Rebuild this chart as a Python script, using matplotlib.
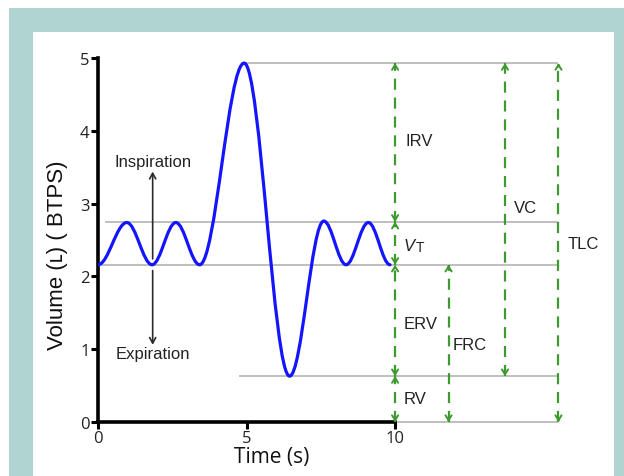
import numpy as np
import matplotlib.pyplot as plt
from matplotlib.path import Path
from matplotlib.patches import PathPatch, Rectangle

# extremes of the spirogram trace (time s, volume L)
t_ext = [0.0, 0.97, 1.82, 2.62, 3.42, 4.92, 6.45, 7.6, 8.35, 9.1, 9.83]
v_ext = [2.16, 2.74, 2.16, 2.74, 2.16, 4.93, 0.63, 2.76, 2.16, 2.74, 2.16]

# lung volume levels
rv_level = 0.63
frc_level = 2.16
vt_level = 2.75
tlc_level = 4.93

# x positions of the bracket arrows
col_main = 10.0
col_frc = 11.8
col_vc = 13.7
col_tlc = 15.5

xticks = [0, 5, 10]
yticks = [0, 1, 2, 3, 4, 5]

green = '#3c9a2e'
grey = '#b4b4b4'

fig = plt.figure(figsize=(6.24, 4.77), dpi=100)
fig.patch.set_facecolor('white')
fig.patches.append(Rectangle((9 / 624, 0), 1, 1 - 9 / 477, transform=fig.transFigure,
                             facecolor='#b0d4d2', edgecolor='none', zorder=-2))
fig.patches.append(Rectangle((33 / 624, 0), (614 - 33) / 624, 1 - 33 / 477,
                             transform=fig.transFigure, facecolor='white',
                             edgecolor='none', zorder=-1))

ax = fig.add_axes([98 / 624, 54 / 477, 500 / 624, 364 / 477])
ax.set_facecolor('none')
ax.set_xlim(0, 16.83)
ax.set_ylim(0, 5)

# smooth trace: cubic bezier between successive extremes
k = 0.36
verts = [(t_ext[0], v_ext[0])]
codes = [Path.MOVETO]
for i in range(len(t_ext) - 1):
    dt = t_ext[i + 1] - t_ext[i]
    verts += [(t_ext[i] + k * dt, v_ext[i]), (t_ext[i + 1] - k * dt, v_ext[i + 1]),
              (t_ext[i + 1], v_ext[i + 1])]
    codes += [Path.CURVE4] * 3
ax.add_patch(PathPatch(Path(verts, codes), facecolor='none', edgecolor='#1414ff',
                       lw=2.3, zorder=4, capstyle='round'))

# grey level lines
ax.hlines(tlc_level, 4.8, col_tlc, color=grey, lw=1.2, zorder=1)
ax.hlines(vt_level, 0.25, col_tlc, color=grey, lw=1.2, zorder=1)
ax.hlines(frc_level, 0.05, col_tlc, color=grey, lw=1.2, zorder=1)
ax.hlines(rv_level, 4.75, col_tlc, color=grey, lw=1.2, zorder=1)
ax.hlines(0, col_main, col_tlc, color=grey, lw=1.2, zorder=1, clip_on=False)


def bracket(x, lo, hi):
    ax.vlines(x, lo, hi, color=green, lw=1.6, linestyles=(0, (5, 3.5)), zorder=3)
    for tip, tail in [(hi, hi - 0.05), (lo, lo + 0.05)]:
        ax.annotate('', xy=(x, tip), xytext=(x, tail), annotation_clip=False,
                    arrowprops=dict(arrowstyle='->,head_length=0.35,head_width=0.22',
                                    color=green, lw=1.4, shrinkA=0, shrinkB=0))


bracket(col_main, vt_level, tlc_level)
bracket(col_main, frc_level, vt_level)
bracket(col_main, rv_level, frc_level)
bracket(col_main, 0, rv_level)
bracket(col_frc, 0, frc_level)
bracket(col_vc, rv_level, tlc_level)
bracket(col_tlc, 0, tlc_level)

lab = dict(fontsize=12, family='Liberation Sans', va='center', ha='left', color='#222222')
ax.text(10.35, 3.86, 'IRV', **lab)
ax.text(10.3, 2.43, 'V', style='italic', **lab)
ax.text(10.68, 2.41, 'T', fontsize=10, family='Liberation Sans', va='center',
        ha='left', color='#222222')
ax.text(10.3, 1.35, 'ERV', **lab)
ax.text(10.3, 0.32, 'RV', **lab)
ax.text(11.95, 1.07, 'FRC', **lab)
ax.text(14.0, 2.95, 'VC', **lab)
ax.text(15.8, 2.45, 'TLC', clip_on=False, **lab)

# inspiration / expiration arrows
ax.annotate('', xy=(1.84, 3.44), xytext=(1.84, 2.24),
            arrowprops=dict(arrowstyle='->,head_length=0.4,head_width=0.22',
                            color='#2a2a2a', lw=1.2, shrinkA=0, shrinkB=0))
ax.annotate('', xy=(1.84, 1.06), xytext=(1.84, 2.08),
            arrowprops=dict(arrowstyle='->,head_length=0.4,head_width=0.22',
                            color='#2a2a2a', lw=1.2, shrinkA=0, shrinkB=0))
ax.text(1.84, 3.58, 'Inspiration', fontsize=12, family='Liberation Sans',
        ha='center', va='center', color='#222222')
ax.text(1.84, 0.94, 'Expiration', fontsize=12, family='Liberation Sans',
        ha='center', va='center', color='#222222')

# axes styling
for s in ['top', 'right']:
    ax.spines[s].set_visible(False)
ax.spines['left'].set_bounds(0, 5)
ax.spines['bottom'].set_bounds(0, 10)
for s in ['left', 'bottom']:
    ax.spines[s].set_linewidth(2.6)
    ax.spines[s].set_capstyle('projecting')
ax.set_xticks(xticks)
ax.set_yticks(yticks)
ax.tick_params(direction='out', length=5, width=2.2, labelsize=12, pad=1,
               colors='black', labelcolor='#222222')
for lbl in ax.get_xticklabels() + ax.get_yticklabels():
    lbl.set_family('Open Sans')

ax.set_xlabel('Time (s)', fontsize=15, family='Open Sans', color='#111111', va='center')
ax.set_ylabel('Volume (ʟ) ( BTPS)', fontsize=16, family=['Liberation Sans', 'DejaVu Sans'],
              color='#111111', va='center')
ax.xaxis.set_label_coords(0.348, -0.095)
ax.yaxis.set_label_coords(-0.08, 0.46)

fig.savefig('out.png', dpi=100)
